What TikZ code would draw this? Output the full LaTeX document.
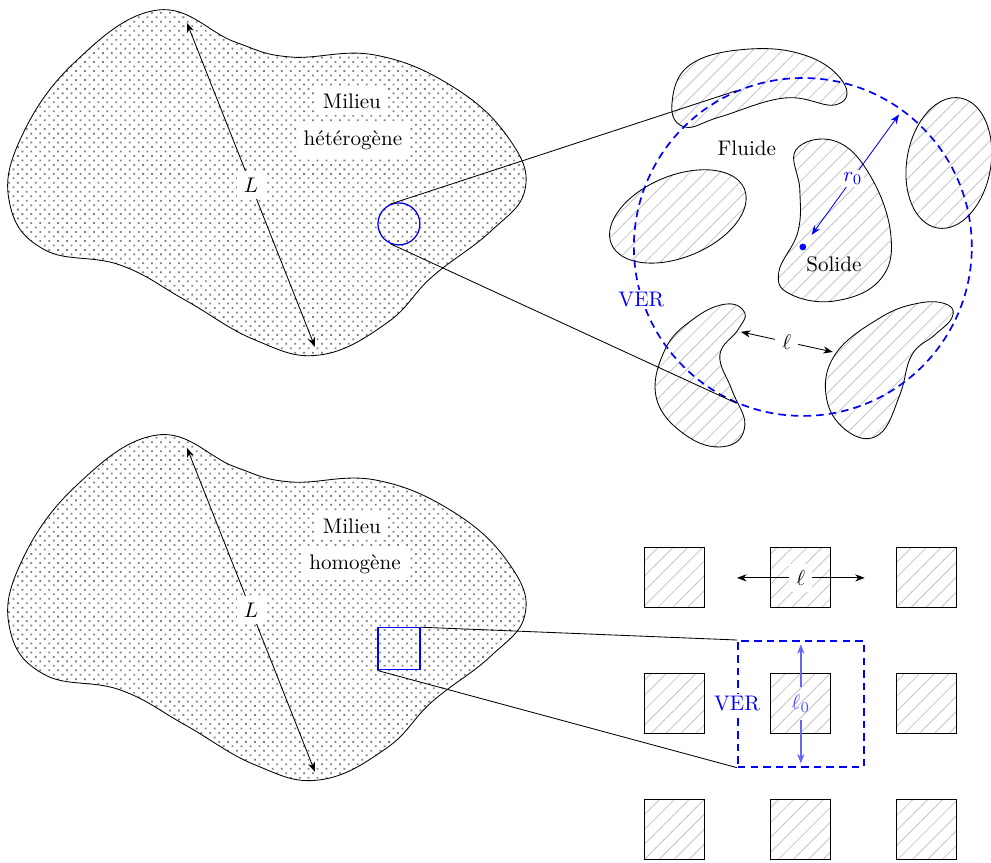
\documentclass[tikz,border=0pt]{standalone}
\usepackage{tikz}
\usetikzlibrary{arrows.meta, patterns, patterns.meta, positioning}

\newcommand{\contour}{plot[smooth cycle, tension=0.7] coordinates {(2.633,-0.167) (3.917,-0.7) (4.833,-0.95) (6.25,-0.917) (7.583,-1.467) (8.5,-2.333) (8.75,-3.167) (8.167,-3.867) (7.2,-4.617) (6.45,-5.383) (5.333,-5.917) (4.25,-5.667) (3.083,-5) (2,-4.417) (0.75,-4.167) (0.167,-3.417) (0.333,-2.333) (1.25,-1.033)}}

\begin{document}
\begin{tikzpicture}[>={Stealth[length=4.5pt, width=3.4pt, inset=1.4pt]}, milieu/.style={draw, pattern={Dots[distance=3pt, radius=0.6pt, angle=45]}, pattern color=gray}, solide/.style={draw, pattern={Lines[angle=45, distance=5pt, line width=0.4pt]}, pattern color=gray!45}, ver/.style={draw=blue, thick, dash pattern=on 3.6pt off 2.4pt}]
\useasboundingbox (0,0) rectangle (16.52,-14.38);

% milieu heterogene
\draw[milieu] \contour;
\coordinate (Lh1) at (3.117,-0.383);
\coordinate (Lh2) at (5.25,-5.783);
\draw[<->] (Lh1) -- node[fill=white]{$L$} (Lh2);
\node[fill=white] (mil1) at (5.867,-1.683) {Milieu};
\node[fill=white] (het) at (5.883,-2.333) {hétérogène};
\node[circle, draw=blue, semithick, inner sep=0, minimum size=0.7cm] (zoom1) at (6.65,-3.733) {};

% grains
\draw[solide] plot[smooth cycle, tension=0.7] coordinates {(11.2,-1.75) (11.5,-1.083) (12.5,-0.817) (13.5,-0.95) (14.083,-1.417) (13.917,-1.75) (13.083,-1.633) (12.0,-1.95) (11.417,-2.117)};
\draw[solide, rotate around={22.5:(11.3,-3.608)}] (11.3,-3.608) ellipse (1.2 and 0.68);
\draw[solide, rotate around={-10:(15.817,-2.717)}] (15.817,-2.717) ellipse (0.7 and 1.1);
\draw[solide] plot[smooth cycle, tension=0.7] coordinates {(13.267,-2.5) (13.917,-2.35) (14.5,-2.917) (14.85,-3.917) (14.667,-4.667) (13.917,-5.017) (13.167,-4.9) (12.983,-4.533) (13.3,-3.867) (13.333,-3.167)};
\draw[solide] plot[smooth cycle, tension=0.7] coordinates {(12.117,-5.067) (12.417,-5.217) (12.3,-5.5) (12.0,-5.917) (12.2,-6.5) (12.417,-7.083) (12.133,-7.433) (11.5,-7.3) (10.95,-6.667) (11.083,-5.833) (11.583,-5.3)};
\draw[solide] plot[smooth cycle, tension=0.7] coordinates {(15.8,-5.083) (15.867,-5.3) (15.583,-5.583) (15.2,-5.917) (15.0,-6.583) (14.667,-7.233) (14.167,-7.217) (13.783,-6.667) (13.917,-5.917) (14.667,-5.3) (15.333,-5.05)};

% VER circulaire
\node[circle, ver, inner sep=0, minimum size=5.633cm] (ver1) at (13.383,-4.117) {};
\draw (zoom1.113) -- (ver1.113);
\draw (zoom1.-113) -- (ver1.-113);
\fill[blue] (ver1.center) circle (1.6pt);
\draw[<->, blue, shorten <=0.25cm, shorten >=0.1cm] (ver1.center) -- node[fill=white, inner sep=1pt]{$r_0$} (ver1.54);
\node (fluide) at (12.45,-2.467) {Fluide};
\node (solide) at (13.9,-4.4) {Solide};
\node[blue, fill=white, inner sep=1pt] at (ver1.198) {VER};
\coordinate (l1) at (12.35,-5.533);
\coordinate (l2) at (13.883,-5.867);
\draw[<->] (l1) -- node[fill=white]{$\ell$} (l2);

% milieu homogene
\begin{scope}[yshift=-7.083cm]
\draw[milieu] \contour;
\coordinate (Lb1) at (3.117,-0.383);
\coordinate (Lb2) at (5.25,-5.783);
\draw[<->] (Lb1) -- node[fill=white]{$L$} (Lb2);
\node[fill=white] (mil2) at (5.867,-1.683) {Milieu};
\node[fill=white] (hom) at (5.917,-2.317) {homogène};
\node[rectangle, draw=blue, semithick, inner sep=0, minimum size=0.7cm] (zoom2) at (6.65,-3.733) {};
\end{scope}

% reseau periodique
\foreach \i in {0,1,2}
  \foreach \j in {0,1,2}
    \node[solide, inner sep=0, minimum size=1cm] (sq\i\j) at (11.25+2.1*\i, -9.633-2.1*\j) {};
\node[ver, inner sep=0, minimum size=2.1cm] (ver2) at (13.35,-11.733) {};
\draw (zoom2.north east) -- (ver2.north west);
\draw (zoom2.south west) -- (ver2.south west);
\node[blue, fill=white, inner sep=1pt] at (ver2.west) {VER};
\draw[<->] (ver2.west |- sq10) -- node[fill=white]{$\ell$} (ver2.east |- sq10);
\node[text=blue!70] (l0) at (ver2.center) {$\ell_0$};
\draw[->, thick, blue!60, shorten >=2pt] (l0) -- (ver2.north);
\draw[->, thick, blue!60, shorten >=2pt] (l0) -- (ver2.south);
\end{tikzpicture}
\end{document}
